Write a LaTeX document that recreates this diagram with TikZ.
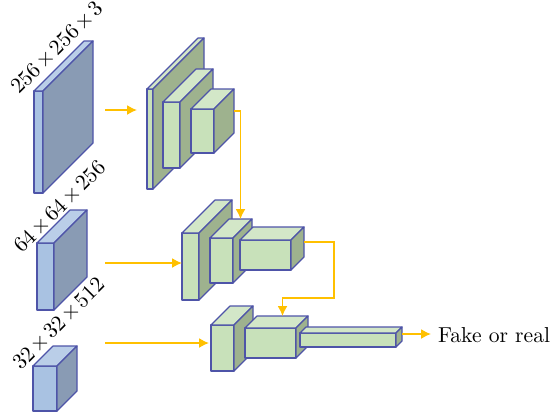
\documentclass[tikz,border=0pt]{standalone}
\usepackage{amsmath,amssymb}
\usepackage{xcolor}
\usepackage{tikz}
\usetikzlibrary{arrows.meta,positioning,calc}
\definecolor{edgeblue}{RGB}{78,84,168}
\definecolor{inface}{RGB}{169,194,226}
\definecolor{inside}{RGB}{137,155,180}
\definecolor{convface}{RGB}{200,225,186}
\definecolor{convside}{RGB}{158,178,142}
\definecolor{feedorange}{RGB}{255,192,0}

% one cuboid: name, x, y (front top-left), width, height, depth, face, side
\newcommand{\convblock}[8]{%
  \coordinate (#1-a) at (#2,#3);
  \filldraw[blockedge,fill=#7] (#1-a) rectangle ++(#4,#5);
  \filldraw[blockedge,fill=#7!80!white] (#1-a) -- ++(#6,-#6) -- ++(#4,0) -- ++(-#6,#6) -- cycle;
  \filldraw[blockedge,fill=#8] ($(#1-a)+(#4,0)$) -- ++(#6,-#6) -- ++(0,#5) -- ++(-#6,#6) -- cycle;
  \coordinate (#1-w) at ($(#1-a)+(0,#5/2)$);
  \coordinate (#1-n) at ($(#1-a)+(#6+#4/2,-#6)$);
  \coordinate (#1-e) at ($(#1-a)+(#4+#6,#5/2-#6)$);
}
\newcommand{\by}{\mkern2mu{\times}\mkern2mu}

\begin{document}
\begin{tikzpicture}[x=0.5pt,y=-0.5pt,font=\fontsize{10.8}{13}\selectfont,
  blockedge/.style={draw=edgeblue,line width=0.6pt,line join=round},
  feed/.style={draw=feedorange,line width=0.75pt,-{Latex[length=5pt,width=5pt]}},
  dimlabel/.style={rotate=45,inner sep=0pt}]
\useasboundingbox (0,0) rectangle (555,414);

% inputs
\convblock{img1}{34}{91}{9}{102}{50}{inface}{inside}
\convblock{img2}{37}{243}{17}{67}{33}{inface}{inside}
\convblock{img3}{33}{366}{24}{45}{20}{inface}{inside}
\node[dimlabel] (img1-lbl) at (57,48) {$256\by256\by3$};
\node[dimlabel] (img2-lbl) at (60,207) {$64\by64\by256$};
\node[dimlabel] (img3-lbl) at (59,324) {$32\by32\by512$};

% first stage
\convblock{l1a}{147}{89}{6}{100}{51}{convface}{convside}
\convblock{l1b}{163}{102}{17}{66}{33}{convface}{convside}
\convblock{l1c}{191}{109}{23}{44}{20}{convface}{convside}

% second stage
\convblock{l2a}{182}{233}{17}{67}{33}{convface}{convside}
\convblock{l2b}{210}{238}{23}{45}{19}{convface}{convside}
\convblock{l2c}{240}{240}{51}{30}{13}{convface}{convside}

% third stage
\convblock{l3a}{211}{325}{23}{46}{19}{convface}{convside}
\convblock{l3b}{245}{328}{51}{30}{12}{convface}{convside}
\convblock{l3c}{300}{333}{96}{14}{6}{convface}{convside}

\node[anchor=west] (out) at (431,335) {Fake or real};

% connectors
\coordinate (in1) at (105,110);
\coordinate (in2) at (105,263);
\coordinate (in3) at (105,343);
\draw[feed,shorten >=5pt] (in1) -- (in1 -| l1a-w);
\draw[feed] (in2) -- (in2 -| l2a-w);
\draw[feed,shorten >=1pt] (in3) -- (in3 -| l3a-w);
\draw[feed] (l1c-e) -| (l2b-n);
\draw[feed] (l2c-e) -- ++(30,0) |- ($(l3b-n)+(0,-18)$) -- (l3b-n);
\draw[feed] (l3c-e) -- (l3c-e -| out.west);
\end{tikzpicture}
\end{document}
